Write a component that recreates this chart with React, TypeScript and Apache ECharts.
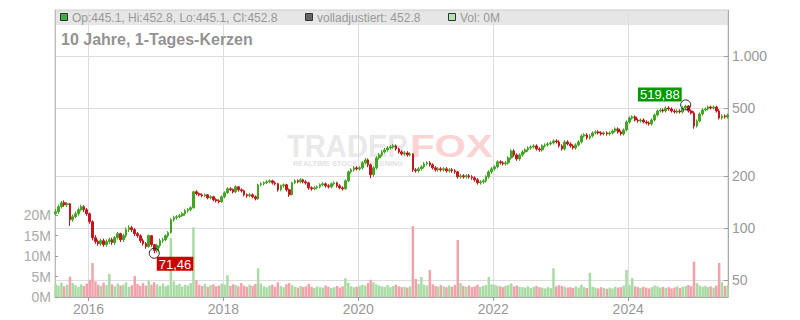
import React, { useEffect, useRef } from "react";
import * as echarts from "echarts";

// half-monthly candles (8th and 23rd of each month), Jul 2015 .. Jun 2025
const firstOpen = 121.2;
const closes = [
  124.5, 133.1, 140.4, 136.7, 138.5, 111.9, 116.5, 121.2, 127.9, 133.1, 127.9, 121.2,
  109.0, 88.0, 83.5, 81.3, 84.6, 80.2, 83.5, 85.7, 82.4, 88.0, 92.9, 85.7, 90.4, 98.0, 100.6, 98.0, 92.9, 90.4, 84.6, 81.3, 78.1, 90.4, 80.2, 74.0,
  79.1, 84.6, 85.7, 90.4, 94.1, 111.9, 115.0, 116.5, 118.1, 121.2, 126.2, 127.9, 131.3, 162.6, 158.3, 156.2, 154.1, 156.2, 150.1, 152.1, 146.1, 144.2, 142.3, 152.1,
  160.4, 169.2, 167.0, 162.6, 173.8, 167.0, 164.8, 156.2, 154.1, 156.2, 152.1, 148.1, 178.5, 180.9, 183.3, 185.8, 188.3, 183.3, 180.9, 167.0, 176.1, 178.5, 167.0, 156.2,
  183.3, 188.3, 185.8, 190.8, 185.8, 183.3, 171.5, 169.2, 171.5, 173.8, 178.5, 180.9, 176.1, 173.8, 180.9, 183.3, 176.1, 171.5, 169.2, 188.3, 212.3, 218.0, 223.9, 221.0,
  223.9, 239.4, 249.1, 233.1, 204.0, 223.9, 255.9, 266.3, 277.2, 284.7, 292.4, 296.3, 300.3, 288.5, 277.2, 269.9, 273.5, 266.3, 269.9, 218.0, 215.1, 221.0, 226.9, 236.2,
  239.4, 233.1, 223.9, 218.0, 221.0, 218.0, 221.0, 215.1, 218.0, 215.1, 212.3, 198.6, 201.3, 198.6, 201.3, 198.6, 196.0, 190.8, 183.3, 185.8, 188.3, 198.6, 212.3, 221.0,
  226.9, 242.6, 239.4, 236.2, 239.4, 255.9, 280.9, 266.3, 252.5, 266.3, 277.2, 284.7, 292.4, 296.3, 300.3, 288.5, 284.7, 300.3, 304.3, 308.4, 312.6, 321.0, 316.8, 300.3,
  288.5, 316.8, 308.4, 300.3, 292.4, 304.3, 316.8, 343.2, 347.8, 334.1, 343.2, 357.2, 362.0, 357.2, 352.5, 357.2, 352.5, 357.2, 366.9, 376.8, 362.0, 352.5, 371.8, 413.7,
  436.4, 442.3, 424.9, 419.3, 424.9, 413.7, 408.2, 402.8, 424.9, 454.2, 479.1, 485.6, 479.1, 498.7, 492.1, 479.1, 472.8, 479.1, 472.8, 498.7, 512.2, 479.1, 466.5, 392.2,
  419.3, 460.3, 485.6, 492.1, 505.4, 498.7, 505.4, 479.1, 436.4, 448.2, 442.3, 452.8,
];
const highs = [
  129, 137, 144, 145, 142, 140, 120, 125, 132, 137, 136, 131,
  123, 111, 91, 86, 87, 87, 86, 88, 88, 90, 95, 94, 93, 101, 104, 103, 100, 95, 92, 87, 83, 92, 91, 81,
  81, 87, 88, 92, 96, 114, 118, 119, 121, 124, 129, 131, 134, 165, 166, 161, 159, 159, 158, 155, 154, 149, 147, 155,
  164, 173, 173, 170, 177, 176, 170, 167, 159, 160, 159, 155, 181, 185, 187, 190, 192, 191, 187, 183, 179, 182, 181, 170,
  186, 192, 192, 195, 194, 190, 186, 175, 175, 177, 182, 185, 184, 180, 184, 187, 186, 180, 175, 192, 216, 223, 229, 229,
  229, 245, 255, 254, 237, 229, 262, 273, 284, 292, 300, 304, 308, 306, 294, 283, 280, 280, 276, 272, 223, 226, 232, 242,
  245, 245, 238, 229, 226, 226, 226, 226, 223, 223, 220, 215, 206, 206, 206, 206, 203, 200, 195, 190, 193, 203, 217, 226,
  232, 248, 248, 245, 245, 262, 287, 287, 272, 272, 284, 291, 299, 303, 307, 307, 295, 307, 311, 316, 320, 328, 328, 324,
  307, 324, 324, 315, 307, 311, 324, 351, 356, 356, 351, 365, 370, 370, 365, 365, 365, 365, 375, 385, 385, 370, 380, 423,
  446, 452, 452, 434, 434, 434, 423, 417, 434, 464, 490, 496, 496, 510, 510, 503, 490, 490, 490, 510, 519.88, 519, 490, 477,
  428, 470, 496, 503, 515, 515, 515, 515, 490, 458, 458, 462,
];
const lows = [
  118, 121, 130, 133, 133, 103, 109, 114, 118, 125, 124, 118,
  106, 85, 81, 79, 79, 78, 78, 81, 80, 80, 86, 83, 83, 88, 95, 95, 90, 88, 82, 79, 76, 77, 78, 71.46,
  72, 77, 82, 84, 88, 93, 109, 112, 114, 116, 118, 123, 125, 130, 155, 153, 151, 151, 147, 147, 143, 141, 139, 140,
  149, 158, 164, 159, 160, 163, 161, 153, 150, 151, 149, 145, 146, 175, 177, 180, 182, 179, 177, 163, 164, 172, 163, 152,
  155, 180, 182, 182, 182, 179, 167, 165, 166, 168, 170, 175, 172, 170, 170, 177, 172, 168, 165, 167, 185, 207, 213, 216,
  216, 219, 234, 226, 195, 199, 219, 250, 260, 271, 278, 286, 289, 282, 271, 264, 264, 260, 261, 212, 210, 210, 216, 222,
  231, 228, 219, 213, 213, 213, 213, 210, 210, 210, 207, 194, 194, 194, 194, 194, 191, 186, 179, 179, 181, 184, 194, 207,
  216, 222, 234, 231, 231, 234, 250, 260, 246, 246, 260, 271, 278, 286, 290, 282, 278, 278, 294, 298, 302, 306, 310, 294,
  282, 282, 302, 294, 286, 286, 298, 310, 336, 327, 327, 336, 350, 350, 345, 345, 345, 345, 350, 359, 354, 345, 345, 364,
  405, 427, 416, 410, 410, 405, 400, 394, 394, 416, 445, 469, 469, 469, 482, 469, 463, 463, 463, 463, 488, 469, 457, 378,
  384, 411, 451, 476, 482, 489, 489, 469, 427, 427, 433, 433,
];
// daily volume level in millions
const volumesM = [
  3.2, 2.8, 3.5, 2.6, 3.0, 5.0, 3.4, 2.9, 2.5, 3.1, 2.7, 3.3,
  4.2, 8.3, 3.8, 3.0, 2.7, 3.5, 2.9, 5.6, 3.1, 2.6, 3.3, 2.8, 3.0, 3.6, 2.5, 2.9, 5.1, 3.2, 2.7, 3.4, 2.8, 3.9, 3.0, 3.6,
  3.1, 2.7, 3.3, 2.6, 2.9, 14.4, 3.8, 2.9, 3.2, 2.6, 3.0, 2.8, 3.4, 17.0, 4.1, 3.0, 2.7, 3.2, 2.5, 2.9, 3.1, 2.6, 2.8, 3.3,
  3.0, 5.3, 2.7, 3.1, 2.9, 2.6, 3.4, 2.8, 2.5, 3.0, 2.7, 3.2, 7.0, 3.3, 2.6, 2.4, 2.8, 3.0, 2.5, 3.6, 2.7, 2.4, 3.1, 3.4,
  2.9, 2.5, 2.3, 2.7, 2.4, 2.6, 3.2, 2.5, 2.2, 2.6, 2.4, 2.3, 2.8, 2.5, 2.2, 2.4, 2.7, 2.3, 2.6, 4.6, 3.5, 2.6, 2.4, 2.5,
  2.7, 3.0, 2.8, 3.4, 4.2, 3.6, 3.1, 2.8, 2.6, 2.5, 2.9, 2.4, 2.7, 3.0, 2.6, 2.4, 2.5, 2.3, 2.6, 17.3, 4.4, 3.2, 4.9, 3.0,
  2.8, 6.6, 3.1, 2.7, 2.5, 2.9, 2.6, 2.4, 2.8, 2.5, 3.0, 13.9, 3.4, 2.7, 2.5, 2.8, 2.4, 2.6, 3.0, 2.5, 2.7, 2.9, 4.9, 3.1,
  3.0, 2.8, 2.6, 2.4, 2.7, 2.9, 3.3, 2.6, 2.8, 2.5, 2.4, 2.3, 2.6, 2.2, 2.5, 2.7, 2.4, 2.3, 2.1, 2.4, 2.2, 7.0, 2.6, 2.9,
  2.7, 2.5, 2.3, 2.4, 2.2, 2.6, 2.3, 3.0, 2.4, 2.2, 5.9, 2.5, 2.3, 2.1, 2.4, 2.2, 2.0, 2.3, 2.1, 2.5, 2.3, 2.4, 2.8, 6.6,
  3.0, 4.6, 2.6, 2.4, 2.2, 2.5, 2.3, 2.1, 2.4, 2.8, 2.6, 2.3, 2.5, 2.2, 2.4, 2.1, 2.3, 2.6, 2.2, 2.5, 2.7, 2.9, 2.6, 8.6,
  3.4, 2.8, 2.5, 2.7, 2.4, 2.6, 2.3, 2.8, 8.3, 3.6, 2.7, 2.9,
];
const priceTicks = [50, 100, 200, 500, 1000];
const volumeTicksM = [0, 5, 10, 15, 20];
const yearTicks = [2016, 2018, 2020, 2022, 2024];

const FONT = "'Liberation Sans', Arial, sans-serif";
const GREEN = "#42a526";
const RED = "#c4161c";
const VGREEN = "#a9dba4";
const VRED = "#f0a3ab";

// decimal year of a UTC date
function decYear(y: number, m: number, d: number): number {
  const t = Date.UTC(y, m, d);
  const s = Date.UTC(y, 0, 1);
  const e = Date.UTC(y + 1, 0, 1);
  return y + (t - s) / (e - s);
}

function candleDates(n: number): number[] {
  const out: number[] = [];
  let y = 2015;
  let m = 6;
  while (out.length < n) {
    out.push(decYear(y, m, 8));
    if (out.length < n) out.push(decYear(y, m, 23));
    m++;
    if (m > 11) {
      m = 0;
      y++;
    }
  }
  return out;
}

const fmtThousands = (n: number) => {
  const s = String(n);
  return s.length > 3 ? s.slice(0, s.length - 3) + "." + s.slice(s.length - 3) : s;
};
const fmtComma = (v: number) => v.toFixed(2).replace(".", ",");

export default function App() {
  const ref = useRef<HTMLDivElement>(null);
  useEffect(() => {
    document.body.style.margin = "0";
    if (!ref.current) return;
    const chart = echarts.init(ref.current, null, { renderer: "svg" });
    const L = Math.log10;
    const dates = candleDates(closes.length);
    const opens = closes.map((c, i) => (i === 0 ? firstOpen : closes[i - 1]));
    let iLo = 0;
    let iHi = 0;
    lows.forEach((v, i) => { if (v < lows[iLo]) iLo = i; });
    highs.forEach((v, i) => { if (v > highs[iHi]) iHi = i; });

    const candleData = dates.map((d, i) => [d, L(opens[i]), L(closes[i]), L(lows[i]), L(highs[i])]);
    const volData = dates.map((d, i) => ({
      value: [d, volumesM[i]],
      itemStyle: { color: closes[i] >= opens[i] ? VGREEN : VRED },
    }));
    const priceVals = priceTicks.map((p) => L(p));

    const labelBase = {
      show: true,
      color: "#ffffff",
      fontSize: 13,
      fontFamily: FONT,
      lineHeight: 13,
      padding: [1, 2, 0, 2],
      opacity: 1,
    };

    chart.setOption({
      animation: false,
      textStyle: { fontFamily: FONT },
      grid: { left: 55, right: 72, top: 10, bottom: 23, show: true, borderColor: "#cccccc", borderWidth: 1, backgroundColor: "transparent" },
      xAxis: {
        type: "value",
        min: decYear(2015, 6, 4),
        max: decYear(2025, 5, 25),
        axisLine: { show: true, lineStyle: { color: "#aaaaaa" } },
        axisTick: { show: true, customValues: yearTicks, length: 4, lineStyle: { color: "#999999" } },
        axisLabel: {
          customValues: yearTicks,
          formatter: (v: number) => String(Math.round(v)),
          color: "#999999",
          fontSize: 14,
          fontFamily: FONT,
          margin: 5,
        },
        splitLine: { show: true, lineStyle: { color: "#dddddd", width: 1 } },
      },
      yAxis: [
        {
          type: "value",
          position: "right",
          min: 1.6,
          max: 3.267,
          axisLine: { show: true, lineStyle: { color: "#aaaaaa" } },
          axisTick: { show: true, inside: true, length: 4, customValues: priceVals, lineStyle: { color: "#999999" } },
          axisLabel: {
            customValues: priceVals,
            formatter: (v: number) => fmtThousands(Math.round(Math.pow(10, v))),
            color: "#999999",
            fontSize: 14,
            fontFamily: FONT,
            margin: 4,
          },
          splitLine: { show: true, lineStyle: { color: "#dddddd", width: 1 } },
        },
        {
          type: "value",
          position: "left",
          min: 0,
          max: 70,
          axisLine: { show: true, lineStyle: { color: "#bbbbbb" } },
          axisTick: { show: true, inside: true, length: 3, customValues: volumeTicksM, lineStyle: { color: "#999999" } },
          axisLabel: {
            customValues: volumeTicksM,
            formatter: (v: number) => v + "M",
            color: "#aaaaaa",
            fontSize: 14,
            fontFamily: FONT,
            margin: 4,
          },
          splitLine: { show: false },
        },
      ],
      graphic: [
        { type: "rect", z: -1, silent: true, shape: { x: 55, y: 10, width: 673, height: 15 }, style: { fill: "#e6e6e6" } },
        { type: "rect", z: 10, silent: true, shape: { x: 60.5, y: 13.5, width: 7, height: 7 }, style: { fill: "#3cb043", stroke: "#333333", lineWidth: 1 } },
        { type: "text", z: 10, silent: true, x: 72, y: 17.5, style: { text: "Op:445.1, Hi:452.8, Lo:445.1, Cl:452.8", font: "12px " + FONT, fill: "#999999", verticalAlign: "middle" } },
        { type: "rect", z: 10, silent: true, shape: { x: 305.5, y: 13.5, width: 7, height: 7 }, style: { fill: "#666666", stroke: "#333333", lineWidth: 1 } },
        { type: "text", z: 10, silent: true, x: 317, y: 17.5, style: { text: "volladjustiert: 452.8", font: "12px " + FONT, fill: "#999999", verticalAlign: "middle" } },
        { type: "rect", z: 10, silent: true, shape: { x: 448.5, y: 13.5, width: 7, height: 7 }, style: { fill: "#b3e3b0", stroke: "#333333", lineWidth: 1 } },
        { type: "text", z: 10, silent: true, x: 460, y: 17.5, style: { text: "Vol: 0M", font: "12px " + FONT, fill: "#999999", verticalAlign: "middle" } },
        { type: "text", z: 10, silent: true, x: 61, y: 39.5, style: { text: "10 Jahre, 1-Tages-Kerzen", font: "bold 16px " + FONT, fill: "#939393", verticalAlign: "middle" } },
        { type: "text", z: 0, silent: true, x: 287, y: 146, scaleX: 0.94, style: { text: "TRADER", font: "bold 31px " + FONT, fill: "#e9e9e9", verticalAlign: "middle" } },
        { type: "text", z: 0, silent: true, x: 410, y: 146, scaleX: 1.3, style: { text: "FOX", font: "bold 31px " + FONT, fill: "#fad4d4", verticalAlign: "middle" } },
        { type: "text", z: 0, silent: true, x: 293, y: 164.5, scaleX: 1.05, style: { text: "REALTIME STOCK SCREENING", font: "bold 7px " + FONT, fill: "#e2e2e2", verticalAlign: "middle" } },
      ],
      series: [
        {
          type: "bar",
          yAxisIndex: 1,
          data: volData,
          barWidth: 2.5,
          z: 1,
          silent: true,
        },
        {
          type: "candlestick",
          yAxisIndex: 0,
          data: candleData,
          barWidth: 2.2,
          z: 3,
          silent: true,
          itemStyle: { color: GREEN, color0: RED, borderColor: GREEN, borderColor0: RED, borderWidth: 1 },
        },
        {
          type: "scatter",
          yAxisIndex: 0,
          symbol: "circle",
          symbolSize: 10,
          z: 5,
          silent: true,
          itemStyle: { color: "rgba(0,0,0,0)", borderColor: "#222222", borderWidth: 1, opacity: 1 },
          data: [
            {
              value: [dates[iLo], L(lows[iLo])],
              label: { ...labelBase, formatter: fmtComma(lows[iLo]), backgroundColor: "#cc0000", position: [8, 9], align: "left", verticalAlign: "top" },
            },
            {
              value: [dates[iHi], L(highs[iHi])],
              label: { ...labelBase, formatter: fmtComma(highs[iHi]), backgroundColor: "#009900", position: [1.5, 2], align: "right", verticalAlign: "bottom" },
            },
          ],
        },
      ],
    });
    return () => chart.dispose();
  }, []);
  return <div ref={ref} style={{ width: 800, height: 320 }} />;
}
